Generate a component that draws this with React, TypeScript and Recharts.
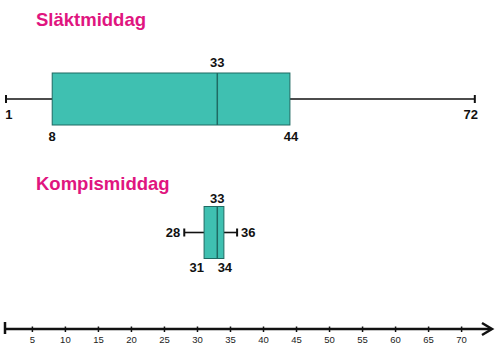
import { ComposedChart, Bar, XAxis, YAxis } from 'recharts'

const groups = ['Släktmiddag', 'Kompismiddag']
const minValues = [1, 28]
const q1Values = [8, 31]
const medianValues = [33, 33]
const q3Values = [44, 34]
const maxValues = [72, 36]
const tickLabels = [5, 10, 15, 20, 25, 30, 35, 40, 45, 50, 55, 60, 65, 70]
const axisStart = 0.7
const axisEnd = 74.3

const data = groups.map((name, i) => ({
  name,
  min: minValues[i],
  q1: q1Values[i],
  median: medianValues[i],
  q3: q3Values[i],
  max: maxValues[i],
  spread: q3Values[i] - q1Values[i],
}))

const FONT = '"Liberation Sans", Arial, sans-serif'
const BOX_FILL = '#3fc0b1'
const BOX_STROKE = '#1f6a63'
const TITLE = '#e0157f'

function BoxShape(props: any) {
  const { x, y, width, height, payload } = props
  const k = width / (payload.q3 - payload.q1)
  const px = (v: number) => x + (v - payload.q1) * k
  const cy = y + height / 2
  const compact = width < 80
  const lbl = { fontFamily: FONT, fontSize: 13, fontWeight: 700, fill: '#111' }

  return (
    <g>
      <line x1={px(payload.min)} x2={x} y1={cy} y2={cy} stroke="#111" strokeWidth={1.6} />
      <line x1={x + width} x2={px(payload.max)} y1={cy} y2={cy} stroke="#111" strokeWidth={1.6} />
      <line x1={px(payload.min)} x2={px(payload.min)} y1={cy - 4} y2={cy + 4} stroke="#111" strokeWidth={2} />
      <line x1={px(payload.max)} x2={px(payload.max)} y1={cy - 4} y2={cy + 4} stroke="#111" strokeWidth={2} />
      <rect x={x} y={y} width={width} height={height} fill={BOX_FILL} stroke={BOX_STROKE} strokeWidth={1} />
      <line x1={px(payload.median)} x2={px(payload.median)} y1={y} y2={y + height} stroke={BOX_STROKE} strokeWidth={1.5} />
      {compact ? (
        <>
          <text {...lbl} x={px(payload.median)} y={y - 4} textAnchor="middle">{payload.median}</text>
          <text {...lbl} x={px(payload.min) - 4} y={cy + 4.5} textAnchor="end">{payload.min}</text>
          <text {...lbl} x={px(payload.max) + 4} y={cy + 4.5} textAnchor="start">{payload.max}</text>
          <text {...lbl} x={x} y={y + height + 13} textAnchor="end">{payload.q1}</text>
          <text {...lbl} x={x + width + 1} y={y + height + 13} textAnchor="middle">{payload.q3}</text>
        </>
      ) : (
        <>
          <text {...lbl} x={px(payload.median)} y={y - 6.5} textAnchor="middle">{payload.median}</text>
          <text {...lbl} x={px(payload.min) + 3} y={cy + 20} textAnchor="middle">{payload.min}</text>
          <text {...lbl} x={px(payload.max) - 4} y={cy + 20} textAnchor="middle">{payload.max}</text>
          <text {...lbl} x={x} y={y + height + 16} textAnchor="middle">{payload.q1}</text>
          <text {...lbl} x={x + width + 1} y={y + height + 16} textAnchor="middle">{payload.q3}</text>
        </>
      )}
    </g>
  )
}

function AxisTick(props: any) {
  const { x, y, payload } = props
  const v = payload.value
  if (v === axisStart) {
    return <line x1={x + 1} x2={x + 1} y1={y - 7} y2={y + 5} stroke="#111" strokeWidth={2.5} />
  }
  if (v === axisEnd) {
    return (
      <polyline
        points={`${x - 8},${y - 6} ${x + 2},${y} ${x - 8},${y + 6}`}
        fill="none"
        stroke="#111"
        strokeWidth={2.5}
      />
    )
  }
  return (
    <g>
      <line x1={x} x2={x} y1={y - 2.5} y2={y + 3} stroke="#111" strokeWidth={1.5} />
      <text x={x} y={y + 13.5} textAnchor="middle" fontFamily={FONT} fontSize={9.5} fill="#222">
        {v}
      </text>
    </g>
  )
}

export default function App() {
  return (
    <div style={{ position: 'absolute', left: 0, top: 0, width: 498, height: 354, background: '#fff' }}>
      <ComposedChart
        width={498}
        height={354}
        data={data}
        layout="vertical"
        margin={{ top: 0, right: 8, bottom: 0, left: 4 }}
      >
        <XAxis
          type="number"
          domain={[axisStart, axisEnd]}
          allowDataOverflow
          ticks={[axisStart, ...tickLabels, axisEnd]}
          interval={0}
          height={25}
          tickSize={0}
          tickMargin={0}
          tickLine={false}
          axisLine={{ stroke: '#111', strokeWidth: 2.5 }}
          tick={<AxisTick />}
        />
        <YAxis type="category" dataKey="name" hide padding={{ top: 32, bottom: 30 }} />
        <Bar dataKey="q1" stackId="box" fill="none" barSize={52} isAnimationActive={false} />
        <Bar dataKey="spread" stackId="box" barSize={52} shape={<BoxShape />} isAnimationActive={false} />
      </ComposedChart>
      <svg width={498} height={354} style={{ position: 'absolute', left: 0, top: 0, pointerEvents: 'none' }}>
        <text x={36} y={26} fontFamily={FONT} fontSize={18.5} fontWeight={700} fill={TITLE}>{groups[0]}</text>
        <text x={36} y={190} fontFamily={FONT} fontSize={18.5} fontWeight={700} fill={TITLE}>{groups[1]}</text>
      </svg>
    </div>
  )
}
